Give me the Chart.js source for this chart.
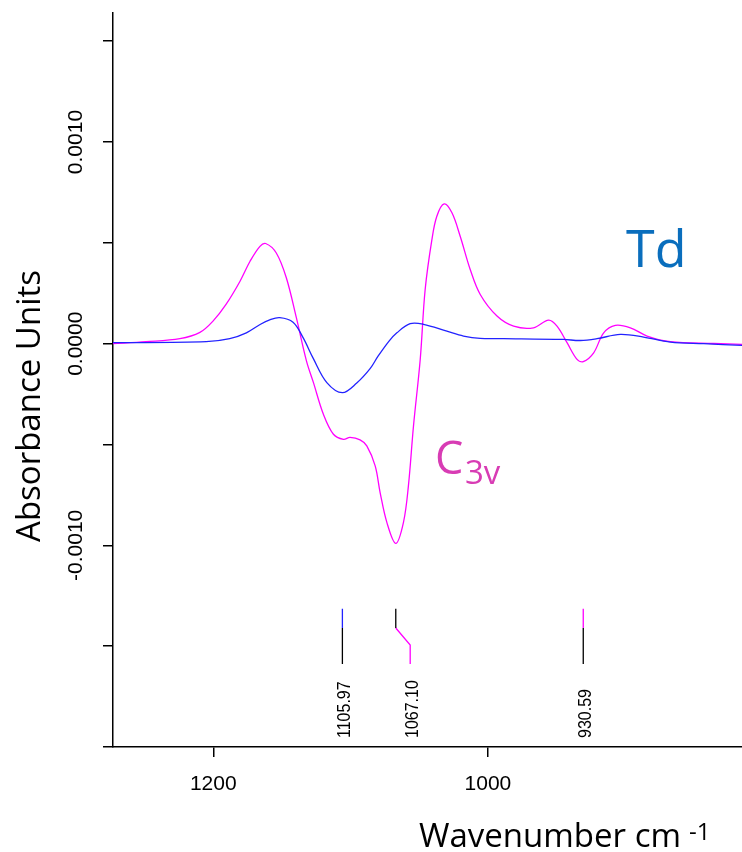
<!DOCTYPE html>
<html lang="en">
<head>
<meta charset="UTF-8">
<title>IR difference spectra</title>
<script src="https://cdn.jsdelivr.net/npm/chart.js"></script>
<style>
  body { margin: 0; background: #fff; }
  canvas { display: block; }
</style>
</head>
<body>
<canvas id="chart" width="742" height="852"></canvas>
<script>
// Td spectrum (blue)
const tdWavenumbers = [1273, 1205.1, 1188.0, 1175.9, 1166.2, 1158.9, 1151.6, 1141.9, 1134.6, 1127.2,
  1117.3, 1106.0, 1095.5, 1085.8, 1080.0, 1072.0, 1066.3, 1056.6, 1046.9, 1029.9, 1017.8,
  1005.6, 988.6, 944.9, 932.7, 920.6, 903.6, 886.6, 867.1, 842.9, 814.7];
const tdAbsorbance = [0.000005, 0.000010, 0.000025, 0.000054, 0.000094, 0.000118, 0.000129, 0.000106, 0.000030, -0.000073,
  -0.000193, -0.000243, -0.000195, -0.000124, -0.000062, 0.000013, 0.000054, 0.000099, 0.000096, 0.000062, 0.000038,
  0.000026, 0.000025, 0.000021, 0.000016, 0.000025, 0.000046, 0.000033, 0.000008, 0.000000, -0.000008];

// C3v spectrum (magenta)
const c3vWavenumbers = [1273, 1249, 1224.3, 1209.7, 1200.2, 1190.7, 1180.5, 1173.2, 1166.0, 1161.8,
  1154.1, 1146.8, 1139.5, 1132.1, 1127.1, 1119.8, 1112.5, 1105.2, 1100.4, 1093.1,
  1088.2, 1082.1, 1078.5, 1073.6, 1067.1, 1061.5, 1057.9, 1054.2, 1049.3, 1045.7,
  1040.8, 1037.2, 1031.9, 1026.2, 1020.2, 1012.9, 1005.6, 993.4, 981.3, 966.8,
  955.8, 949.7, 942.4, 935.1, 930.6, 923.0, 915.7, 907.2, 896.3, 884.1,
  867.1, 835.6, 814.7];
const c3vAbsorbance = [0, 0.000010, 0.000025, 0.000056, 0.000112, 0.000195, 0.000310, 0.000409, 0.000483, 0.000497,
  0.000450, 0.000327, 0.000129, -0.000086, -0.000192, -0.000350, -0.000449, -0.000474, -0.000465, -0.000477,
  -0.000507, -0.000606, -0.000738, -0.000886, -0.000990, -0.000886, -0.000705, -0.000408, -0.000078, 0.000269,
  0.000516, 0.000632, 0.000693, 0.000649, 0.000533, 0.000368, 0.000244, 0.000137, 0.000087, 0.000079,
  0.000117, 0.000087, 0.000005, -0.000078, -0.000089, -0.000045, 0.000054, 0.000091, 0.000079, 0.000038,
  0.000010, 0.000001, -0.000003];

// picked peaks
const peakWavenumbers = [1105.97, 1067.10, 930.59];
const peakLabels = ["1105.97", "1067.10", "930.59"];
const peakLeadEnds = [1105.97, 1056.6, 930.59];

const yTickLabels = [0.0010, 0.0000, -0.0010];
const xTickLabels = [1200, 1000];

const BLUE = "#2222ff";
const MAGENTA = "#ff00ff";
const peakTopColors = [BLUE, "#000", MAGENTA];
const peakLeadColors = ["#000", MAGENTA, "#000"];
// peak marker levels (absorbance units)
const LEAD_TOP = -0.001315, LEAD_MID = -0.00141, LEAD_JOG = -0.001494, LEAD_BOTTOM = -0.001588;

function pairs(xs, ys) {
  return xs.map((x, i) => ({ x: x, y: ys[i] }));
}

const datasets = [
  { data: pairs(tdWavenumbers, tdAbsorbance), borderColor: BLUE, tension: 0.35 },
  { data: pairs(c3vWavenumbers, c3vAbsorbance), borderColor: MAGENTA, tension: 0.35 }
];
peakWavenumbers.forEach((w, i) => {
  datasets.push({ data: [{ x: w, y: LEAD_TOP }, { x: w, y: LEAD_MID }], borderColor: peakTopColors[i], tension: 0 });
  datasets.push({
    data: [{ x: w, y: LEAD_MID }, { x: peakLeadEnds[i], y: LEAD_JOG }, { x: peakLeadEnds[i], y: LEAD_BOTTOM }],
    borderColor: peakLeadColors[i],
    tension: 0
  });
});
datasets.forEach(d => {
  d.borderWidth = 1.3;
  d.pointRadius = 0;
  d.fill = false;
});

const annotate = {
  id: "annotate",
  afterDraw(chart) {
    const { ctx, chartArea, scales: { x, y } } = chart;
    ctx.save();
    ctx.fillStyle = "#000";

    // y tick labels, rotated
    ctx.font = '21px "Liberation Sans", Arial, sans-serif';
    ctx.textAlign = "center";
    ctx.textBaseline = "middle";
    yTickLabels.forEach(v => {
      ctx.save();
      ctx.translate(chartArea.left - 37, y.getPixelForValue(v));
      ctx.rotate(-Math.PI / 2);
      ctx.fillText(v.toFixed(4), 0, 0);
      ctx.restore();
    });

    // x tick labels
    xTickLabels.forEach(v => {
      ctx.fillText(String(v), x.getPixelForValue(v), chartArea.bottom + 37);
    });

    // peak labels under the leads
    ctx.font = '16px "Liberation Sans", Arial, sans-serif';
    ctx.textAlign = "left";
    peakLabels.forEach((t, i) => {
      ctx.save();
      ctx.translate(x.getPixelForValue(peakLeadEnds[i]) + 2.5, 738);
      ctx.rotate(-Math.PI / 2);
      ctx.scale(1, 1.15);
      ctx.fillText(t, 0, 0);
      ctx.restore();
    });

    // axis titles
    ctx.font = '33px "Open Sans", sans-serif';
    ctx.textBaseline = "alphabetic";
    ctx.save();
    ctx.translate(40, 406);
    ctx.rotate(-Math.PI / 2);
    ctx.textAlign = "center";
    ctx.fillText("Absorbance Units", 0, 0);
    ctx.restore();
    ctx.textAlign = "left";
    ctx.fillText("Wavenumber cm", 419, 847);
    ctx.font = '24px "Open Sans", sans-serif';
    ctx.fillText("-1", 689, 840);

    // species labels
    ctx.fillStyle = "#0a6ebd";
    ctx.font = '52px "Open Sans", sans-serif';
    ctx.fillText("Td", 626, 267);
    ctx.fillStyle = "#d83cb4";
    ctx.font = '45px "Open Sans", sans-serif';
    ctx.fillText("C", 435, 474);
    ctx.font = '33px "Open Sans", sans-serif';
    ctx.fillText("3v", 465, 484);
    ctx.restore();
  }
};

new Chart(document.getElementById("chart"), {
  type: "line",
  data: { datasets: datasets },
  options: {
    responsive: false,
    animation: false,
    layout: { padding: { left: 103, right: 0, top: 13, bottom: 95 } },
    plugins: { legend: { display: false }, tooltip: { enabled: false } },
    scales: {
      x: {
        type: "linear",
        reverse: true,
        min: 815,
        max: 1273,
        grid: { drawOnChartArea: false, tickLength: 10, color: "#000", lineWidth: 1.5 },
        border: { color: "#000", width: 1.5 },
        ticks: { display: false, stepSize: 200, includeBounds: false }
      },
      y: {
        min: -0.002,
        max: 0.00164,
        grid: { drawOnChartArea: false, tickLength: 10, color: "#000", lineWidth: 1.5 },
        border: { color: "#000", width: 1.5 },
        ticks: { display: false, stepSize: 0.0005, includeBounds: false }
      }
    }
  },
  plugins: [annotate]
});
</script>
</body>
</html>
